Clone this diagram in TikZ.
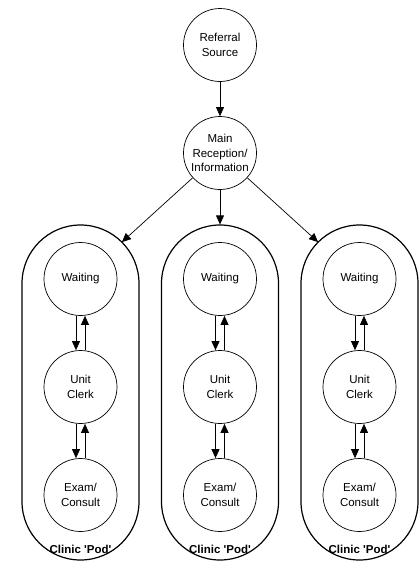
\documentclass[tikz,border=0pt]{standalone}
\usepackage{fontspec}
\setmainfont{Liberation Sans}
\usetikzlibrary{arrows.meta}
\begin{document}
\begin{tikzpicture}[x=1pt,y=-1pt,
  circ/.style={draw, circle, line width=0.7pt, minimum size=73pt, inner sep=0pt, align=center,
    font=\fontsize{11.5}{14.5}\selectfont},
  pod/.style={draw, line width=1.2pt, rounded corners=58.5pt, minimum width=117pt, minimum height=335pt, inner sep=0pt},
  podlabel/.style={font=\fontsize{11.5}{14}\selectfont\bfseries, inner sep=0pt},
  arr/.style={line width=0.7pt, -{Triangle[length=9pt,width=8pt]}}]
\useasboundingbox (0,0) rectangle (419,562);
\node[circ] (ref) at (220,45) {Referral\\Source};
\node[circ] (main) at (220,153) {Main\\Reception/\\Information};
\draw[arr] (ref) -- (main);
\foreach \i/\x in {1/80.5,2/220,3/359.5}{
  \node[pod] (pod\i) at (\x,392.5) {};
  \node[podlabel] (lab\i) at (\x,549) {Clinic \textquotesingle Pod\textquotesingle};
  \node[circ] (w\i) at (\x,279) {Waiting};
  \node[circ] (c\i) at (\x,387) {Unit\\Clerk};
  \node[circ] (e\i) at (\x,495) {Exam/\\Consult};
  \draw[arr] ([xshift=-4.5pt]w\i.south) -- ([xshift=-4.5pt]c\i.north);
  \draw[arr] ([xshift=4.5pt]c\i.north) -- ([xshift=4.5pt]w\i.south);
  \draw[arr] ([xshift=-4.5pt]c\i.south) -- ([xshift=-4.5pt]e\i.north);
  \draw[arr] ([xshift=4.5pt]e\i.north) -- ([xshift=4.5pt]c\i.south);
}
\coordinate (t1) at (121.9,242.1);
\coordinate (t3) at (318.1,242.1);
\draw[arr] (main) -- (t1);
\draw[arr] (main) -- (pod2.north);
\draw[arr] (main) -- (t3);
\end{tikzpicture}
\end{document}
